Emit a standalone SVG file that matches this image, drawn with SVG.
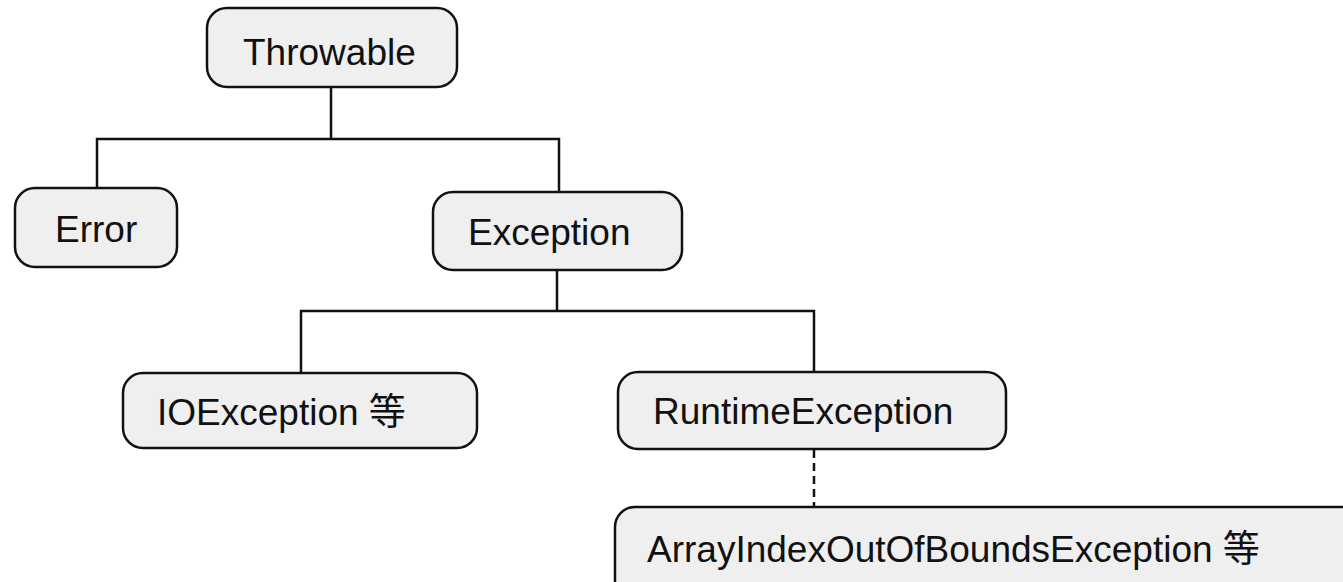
<svg xmlns="http://www.w3.org/2000/svg" width="1343" height="582" viewBox="0 0 1343 582">
  <style>
    .box { fill: #efefef; stroke: #111; stroke-width: 2.5; }
    .lbl { font-family: "Liberation Sans", Arial, "Noto Sans CJK SC", sans-serif; font-size: 37px; fill: #111; }
    .wire { fill: none; stroke: #111; stroke-width: 2.5; }
    .dash { stroke-dasharray: 8 5; }
  </style>
  <rect width="1343" height="582" fill="#ffffff"/>

  <!-- tree connectors: elbow lines from each parent down to its children -->
  <g id="connectors">
    <path class="wire" d="M331 87 V139 M97 188 V139 H559 V192"/>
    <path class="wire" d="M557 270 V311 M301 373 V311 H814 V372"/>
    <path class="wire dash" d="M814 450 V506"/>
  </g>

  <g id="throwable">
    <rect class="box" x="207" y="8" width="250" height="79" rx="20"/>
    <text class="lbl" x="243" y="65">Throwable</text>
  </g>

  <g id="error">
    <rect class="box" x="15" y="188" width="162" height="79" rx="20"/>
    <text class="lbl" x="55" y="242">Error</text>
  </g>

  <g id="exception">
    <rect class="box" x="433" y="192" width="249" height="78" rx="20"/>
    <text class="lbl" x="468" y="245">Exception</text>
  </g>

  <g id="ioexception">
    <rect class="box" x="123" y="373" width="354" height="75" rx="20"/>
    <text class="lbl" x="157" y="425">IOException 等</text>
  </g>

  <g id="runtimeexception">
    <rect class="box" x="618" y="372" width="388" height="77" rx="20"/>
    <text class="lbl" x="653" y="424">RuntimeException</text>
  </g>

  <!-- box runs past the right and bottom edges of the canvas -->
  <g id="arrayindex">
    <rect class="box" x="615" y="507" width="780" height="120" rx="20"/>
    <text class="lbl" x="647" y="562">ArrayIndexOutOfBoundsException 等</text>
  </g>
</svg>
